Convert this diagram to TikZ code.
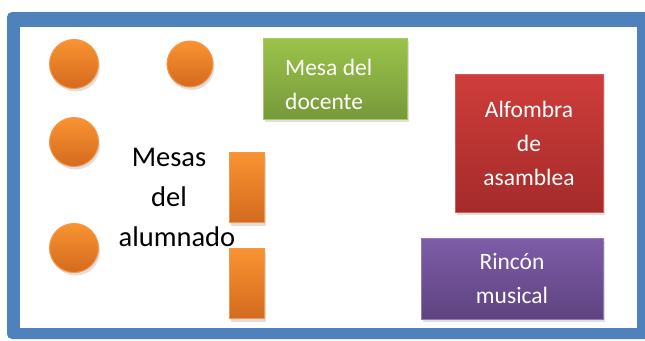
\documentclass[tikz,border=0pt]{standalone}
\usepackage{fontspec}
\setmainfont{Carlito}
\usetikzlibrary{shadows}
\definecolor{frameblue}{HTML}{4F81BD}
\definecolor{orT}{HTML}{F99331}
\definecolor{orB}{HTML}{D46A1E}
\definecolor{orL}{HTML}{F79646}
\definecolor{grT}{HTML}{9BC34A}
\definecolor{grB}{HTML}{77993A}
\definecolor{grL}{HTML}{A6C865}
\definecolor{rdT}{HTML}{CE3D3B}
\definecolor{rdB}{HTML}{A52B2A}
\definecolor{rdL}{HTML}{D45A58}
\definecolor{puT}{HTML}{7E5CA8}
\definecolor{puB}{HTML}{5E4380}
\definecolor{puL}{HTML}{9278B5}
\tikzset{
  shd/.style={drop shadow={opacity=0.25,shadow xshift=1.5pt,shadow yshift=-3pt}},
  mesa/.style={shd,draw=orL,line width=1pt,top color=orT,bottom color=orB,inner sep=0pt},
  roundmesa/.style={mesa,circle},
  rectmesa/.style={mesa,rectangle,minimum width=35pt,minimum height=70pt},
  zone/.style={shd,rectangle,line width=1pt,text=white,font=\fontsize{23.5}{34}\selectfont,inner sep=0pt},
}
\begin{document}
\begin{tikzpicture}[x=1pt,y=-1pt]
\useasboundingbox (0,0) rectangle (645,340);
\fill[frameblue,rounded corners=5pt] (7,12) rectangle (670,339);
\fill[white] (20,27) rectangle (637,328);
\node[roundmesa,minimum size=49pt] (c1) at (74,64) {};
\node[roundmesa,minimum size=46pt] (c2) at (190,64) {};
\node[roundmesa,minimum size=49pt] (c3) at (74,142) {};
\node[roundmesa,minimum size=49pt] (c4) at (74,248) {};
\node[rectmesa] (r1) at (247,187.5) {};
\node[rectmesa] (r2) at (247,283.5) {};
\node[font=\fontsize{28.5}{40}\selectfont,align=center,inner sep=0pt] (alum) at (169,197) {Mesas\\del\\\hspace*{16pt}alumnado};
\node[zone,draw=grL,top color=grT,bottom color=grB,minimum width=144pt,minimum height=81pt] (doc) at (335,78.5) {};
\node[font=\fontsize{23.5}{34}\selectfont,text=white,align=left,anchor=west,inner sep=0pt] (doct) at (285,84) {Mesa del\\docente};
\node[zone,draw=rdL,top color=rdT,bottom color=rdB,minimum width=148pt,minimum height=138pt,align=center] (alf) at (529,143) {Alfombra\\de\\asamblea};
\node[zone,draw=puL,top color=puT,bottom color=puB,minimum width=182pt,minimum height=81pt,align=center] (rin) at (512,278.5) {Rincón\\musical};
\end{tikzpicture}
\end{document}
